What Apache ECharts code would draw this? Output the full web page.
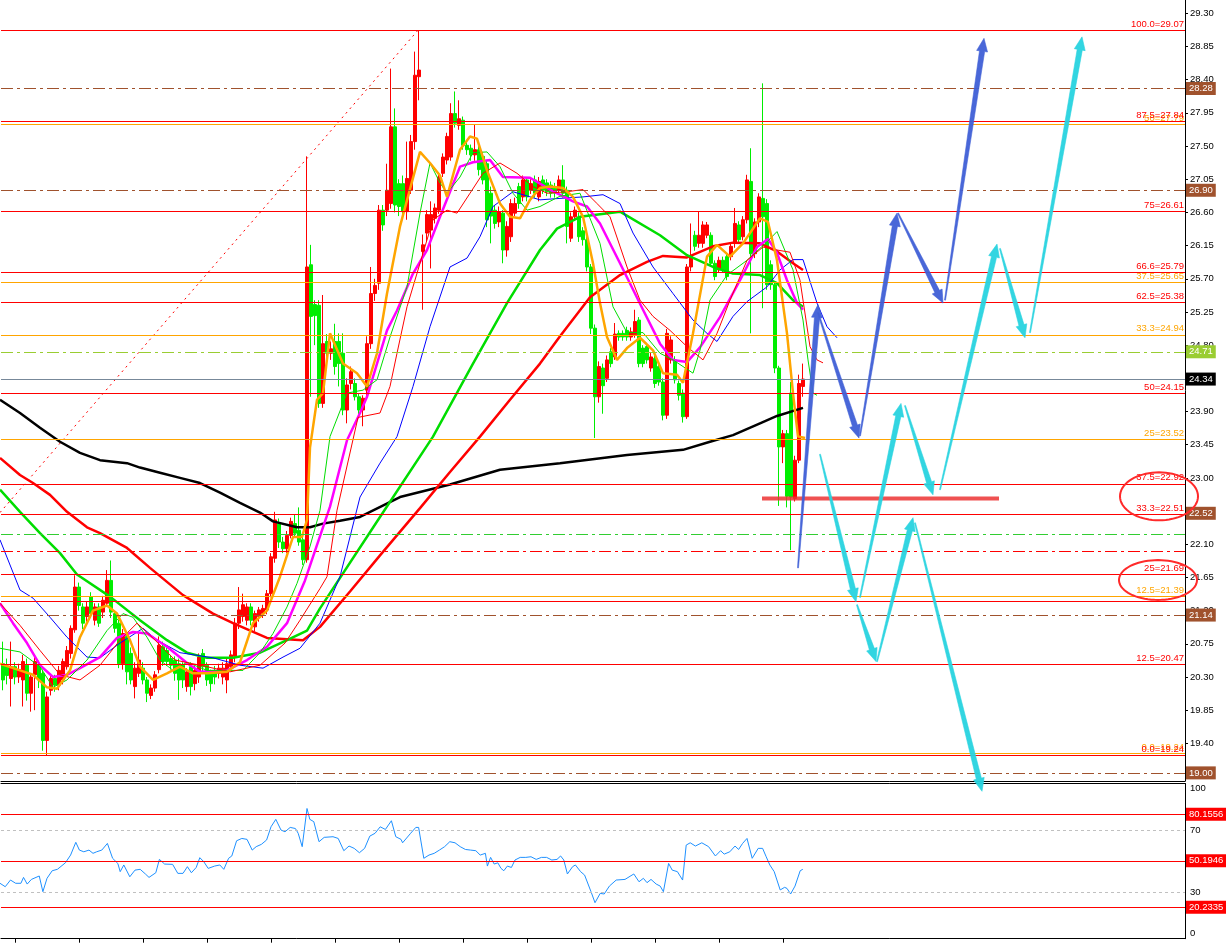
<!DOCTYPE html>
<html><head><meta charset="utf-8">
<script src="https://cdn.jsdelivr.net/npm/echarts@6/dist/echarts.min.js"></script>
<style>html,body{margin:0;padding:0;background:#fff}#c{width:1226px;height:943px}</style>
</head><body><div id="c"></div><script>
// ---------- DATA ----------
// candles: [open, close, low, high]
const ohlc = [
[20.48,20.26,20.12,20.78],[20.45,20.32,20.20,20.55],[20.28,20.44,19.90,20.78],[20.44,20.30,20.20,20.50],[20.30,20.40,20.22,20.48],
[20.26,20.51,19.90,20.60],[20.46,20.08,19.98,20.55],[20.08,20.30,19.83,20.35],[20.33,20.51,19.85,20.58],[20.46,20.26,20.15,20.52],
[20.35,19.44,19.30,20.40],[19.44,20.03,19.24,20.10],[20.12,20.28,20.05,20.32],[20.28,20.19,20.10,20.33],[20.19,20.39,20.12,20.45],
[20.26,20.51,20.20,20.55],[20.44,20.66,20.40,20.72],[20.62,20.96,20.55,21.00],[20.94,21.52,20.90,21.68],[21.52,21.27,21.20,21.58],
[21.25,21.03,20.95,21.30],[21.12,21.25,21.05,21.32],[21.39,21.16,21.10,21.45],[21.07,21.25,21.00,21.30],[21.25,21.03,20.98,21.30],
[21.18,21.34,21.10,21.40],[21.30,21.61,21.25,21.75],[21.61,21.18,21.10,21.88],[21.16,20.96,20.90,21.20],[21.03,20.48,20.42,21.08],
[20.48,20.89,20.40,20.95],[20.85,20.37,20.20,20.90],[20.62,20.26,20.20,20.70],[20.17,20.42,20.01,20.50],[20.35,20.53,20.30,20.89],
[20.42,20.26,20.20,20.50],[20.26,20.08,19.96,20.30],[20.05,20.15,20.00,20.20],[20.15,20.33,20.10,20.38],[20.40,20.73,20.35,20.85],
[20.71,20.51,20.45,20.78],[20.66,20.51,20.45,20.70],[20.55,20.46,20.40,20.60],[20.53,20.35,20.25,20.58],[20.48,20.26,19.99,20.55],
[20.46,20.26,20.15,20.50],[20.17,20.37,20.10,20.42],[20.44,20.17,20.05,20.50],[20.21,20.39,20.12,20.45],[20.30,20.57,20.22,20.62],
[20.62,20.44,20.35,20.68],[20.46,20.26,20.18,20.50],[20.35,20.21,20.10,20.40],[20.39,20.30,20.20,20.45],[20.35,20.42,20.28,20.48],
[20.30,20.42,20.20,20.50],[20.26,20.48,20.08,20.55],[20.44,20.60,20.40,20.66],[20.58,21.03,20.50,21.10],[21.03,21.21,20.95,21.52],
[21.12,21.28,21.05,21.43],[21.07,21.25,21.00,21.30],[21.25,21.07,21.00,21.30],[20.98,21.16,20.92,21.20],[21.12,21.21,21.05,21.25],
[21.16,21.23,21.10,21.28],[21.21,21.43,21.15,21.48],[21.43,21.93,21.38,21.98],[21.91,22.43,21.85,22.54],[22.38,22.13,22.05,22.45],
[22.13,22.04,21.98,22.20],[22.04,22.22,21.98,22.28],[22.22,22.41,22.18,22.46],[22.38,22.25,22.20,22.50],[22.29,22.13,22.08,22.60],
[22.16,21.89,21.82,22.20],[21.89,25.86,21.85,27.36],[25.89,25.19,24.10,26.16],[25.35,25.20,24.80,25.41],[25.34,24.01,23.95,25.41],
[24.01,24.82,23.95,25.48],[24.85,24.69,24.55,24.95],[24.69,24.75,24.60,24.85],[24.85,24.51,24.40,25.09],[24.85,24.55,24.24,24.96],
[24.69,23.92,23.85,24.96],[23.92,24.26,23.74,24.35],[24.28,24.44,24.20,24.51],[24.28,24.10,24.05,24.35],[24.10,23.92,23.85,24.15],
[23.92,24.08,23.70,24.12],[24.19,24.82,24.10,24.92],[24.82,25.50,24.75,25.86],[25.50,25.61,25.40,25.70],[25.64,26.63,25.55,26.70],
[26.63,26.43,26.35,26.70],[26.63,26.90,26.55,27.26],[26.72,27.76,26.65,28.55],[27.76,26.70,26.60,28.01],[26.99,26.68,26.55,27.05],
[26.99,26.61,26.50,27.10],[26.61,27.06,26.50,27.56],[26.90,27.56,26.85,27.65],[27.56,28.46,27.45,28.78],[28.44,28.53,28.12,29.07],
[26.07,26.16,25.28,26.30],[26.32,26.57,26.20,26.63],[26.36,26.57,25.84,26.75],[26.52,26.66,26.45,26.72],[26.63,27.08,26.58,27.12],
[27.13,27.35,27.08,27.40],[27.31,27.63,27.25,27.68],[27.35,27.94,27.30,28.08],[27.94,27.81,27.75,28.24],[27.78,27.87,27.72,28.12],
[27.85,27.51,27.45,27.90],[27.51,27.45,27.38,27.58],[27.47,27.38,27.30,27.52],[27.38,27.45,27.30,27.79],[27.45,27.18,27.10,27.50],
[27.36,27.04,26.98,27.42],[27.26,26.50,26.40,27.30],[26.86,26.55,26.18,26.95],[26.63,26.45,26.38,26.70],[26.47,26.61,26.40,26.68],
[26.59,26.09,25.91,26.63],[26.09,26.41,26.00,26.48],[26.27,26.72,26.20,26.78],[26.59,26.72,26.55,26.80],[26.95,26.72,26.65,27.00],
[26.81,27.04,26.75,27.10],[27.04,26.81,26.75,27.08],[26.90,26.99,26.85,27.05],[27.04,26.86,26.80,27.10],[26.81,27.02,26.75,27.08],
[27.04,26.90,26.85,27.10],[27.00,26.88,26.82,27.05],[26.97,26.86,26.80,27.02],[26.95,26.86,26.80,27.00],[26.90,27.04,26.85,27.10],
[27.04,26.86,26.80,27.24],[26.90,26.41,26.18,26.95],[26.25,26.54,26.20,26.60],[26.54,26.63,26.50,26.68],[26.54,26.27,26.20,26.60],
[26.35,26.23,26.15,26.40],[26.23,25.86,25.80,26.28],[25.86,25.03,24.95,25.90],[25.03,24.10,23.54,25.08],[24.10,24.51,24.02,24.58],
[24.49,24.25,23.87,24.55],[24.35,24.60,24.30,24.66],[24.71,24.55,24.50,24.76],[24.64,24.95,24.60,25.10],[24.96,24.91,24.86,25.00],
[24.96,24.91,24.86,25.00],[25.00,24.91,24.86,25.05],[24.91,24.98,24.86,25.04],[24.94,25.12,24.90,25.28],[25.14,24.55,24.50,25.18],
[24.76,24.55,24.50,24.80],[24.78,24.60,24.55,24.83],[24.49,24.64,24.44,24.70],[24.62,24.28,24.22,24.66],[24.51,24.30,24.25,24.55],
[24.30,23.85,23.78,24.35],[23.85,24.96,23.80,25.02],[24.60,24.87,24.55,24.92],[24.60,24.33,24.28,24.65],[24.28,24.12,24.05,24.32],
[24.15,23.83,23.75,24.20],[23.83,25.86,23.80,25.90],[25.86,26.00,25.80,26.45],[26.29,26.14,26.08,26.35],[26.18,26.29,26.12,26.61],
[26.18,26.43,26.12,26.48],[26.29,26.43,26.25,26.47],[26.29,25.91,25.86,26.33],[25.91,25.73,25.68,25.95],[25.82,25.95,25.78,26.00],
[25.95,25.82,25.78,26.00],[26.00,25.73,25.68,26.05],[26.00,26.14,25.95,26.18],[26.18,26.45,26.12,26.66],[26.43,26.23,26.18,26.48],
[26.27,26.50,26.22,26.55],[26.50,27.04,26.45,27.11],[27.02,26.04,24.96,27.47],[26.04,26.47,25.98,26.52],[26.47,26.81,26.40,26.86],
[26.79,26.54,25.30,28.35],[26.72,25.62,25.55,26.78],[25.89,25.62,25.55,25.95],[25.62,24.49,24.42,25.66],[24.49,23.42,22.62,24.52],
[23.42,23.60,23.20,23.65],[23.60,22.75,22.60,23.65],[24.15,22.74,22.02,24.30],[22.72,23.24,22.68,23.30],[23.24,24.28,23.20,24.40],
[24.24,24.34,24.10,24.55]
];
// moving averages: [bar index, price]
const maBlack = [[-0.75,24.06],[4.25,23.88],[9.25,23.68],[14.25,23.49],[19.25,23.34],[24.25,23.24],[31,23.2],[34.25,23.14],[39.25,23.07],[44.25,23.0],[49.25,22.93],[54.25,22.8],[59.25,22.66],[64.25,22.53],[67.5,22.41],[73.5,22.33],[76.75,22.33],[80,22.38],[84.25,22.42],[89.25,22.47],[99.25,22.74],[111.75,22.91],[124.25,23.11],[139.25,23.2],[156,23.31],[170,23.38],[176.75,23.49],[182.5,23.58],[189.25,23.74],[193.5,23.84],[200,23.95]];
const maRed = [[-0.75,23.27],[4.25,23.04],[7.5,22.93],[11.75,22.77],[16,22.54],[21,22.33],[24.25,22.25],[31,22.05],[36.75,21.78],[45,21.41],[52.5,21.16],[57.5,21.03],[66,20.83],[75,20.8],[79.25,20.98],[86.75,21.46],[94.25,21.95],[104.25,22.59],[111.75,23.08],[119.25,23.56],[126.75,24.06],[134.25,24.55],[139.25,24.92],[146.75,25.45],[154.25,25.75],[161,25.93],[165,26.01],[171,25.99],[177.5,26.14],[182.5,26.19],[189.25,26.18],[193.5,26.07],[197.5,25.91],[200,25.82]];
const maGreen = [[-0.75,22.84],[4.25,22.54],[9.25,22.25],[14.25,21.98],[18.5,21.69],[26.75,21.39],[34.25,21.07],[41,20.8],[46,20.63],[51,20.56],[57.5,20.56],[64.25,20.63],[71,20.8],[76,20.93],[79.25,21.23],[94.25,22.47],[107.5,23.56],[117.5,24.55],[126,25.37],[134.25,26.09],[138.5,26.38],[144.25,26.54],[154.25,26.61],[164.25,26.29],[171,26.02],[177.5,25.86],[182.5,25.77],[189.25,25.75],[193.5,25.64],[197.5,25.41],[200,25.32]];
const maBlue = [[-0.75,22.16],[4.25,21.48],[7.5,21.37],[11.75,21.11],[16,20.84],[21,20.57],[24.25,20.56],[29.25,20.76],[35,20.96],[38.5,20.8],[44.25,20.63],[52.5,20.56],[59.25,20.46],[65,20.42],[70,20.57],[74.25,20.69],[79.25,21.03],[84.25,21.66],[89.25,22.74],[94.25,23.2],[98.5,23.56],[102.5,24.24],[106.75,25.05],[111.75,25.86],[116,25.98],[119.25,26.27],[122.5,26.68],[127.5,26.88],[134.25,26.77],[139.25,26.79],[145,26.81],[150,26.84],[154.25,26.72],[157.5,26.32],[162.5,25.86],[167.5,25.5],[172.5,25.14],[176,24.96],[178.5,24.85],[182.5,25.19],[186,25.39],[191,25.59],[194.25,25.82],[197.5,25.96],[200,25.96],[203.5,25.37],[206,25.05],[208.5,24.9]];
const maMagenta = [[-0.75,21.3],[2.5,21.03],[6,20.76],[9.25,20.46],[12.5,20.3],[16,20.33],[19.25,20.42],[24.25,20.57],[28.5,20.83],[32.5,20.91],[36,20.89],[41,20.71],[46,20.49],[49.25,20.37],[56,20.39],[61,20.53],[66,20.71],[71,21.03],[75.5,21.61],[81.75,22.61],[86,23.51],[89.25,23.88],[91,24.1],[96,25.0],[98.5,25.27],[102.5,25.77],[106,26.09],[109.25,26.54],[114.25,27.22],[117.5,27.28],[121.75,27.31],[125,27.08],[131.75,27.07],[136.75,26.91],[142.5,26.75],[146,26.68],[149.25,26.45],[154.25,25.91],[160,25.28],[164.25,24.82],[167.5,24.6],[171,24.57],[174.25,24.77],[179.25,25.18],[184.25,25.68],[188.5,26.13],[191.25,26.24],[193.5,26.05],[196,25.68],[198.5,25.37],[200,25.28]];
const maOrange = [[-0.75,20.48],[4.25,20.39],[7.5,20.33],[11,20.16],[13.5,20.14],[16.75,20.39],[19.25,20.84],[22.5,21.2],[26,21.27],[28.5,21.16],[31.75,20.8],[34.25,20.44],[37.5,20.26],[41,20.35],[44.25,20.44],[47.5,20.35],[51,20.35],[56,20.37],[59.25,20.5],[62.5,21.03],[66,21.2],[69.25,21.66],[72.5,22.2],[74.75,22.2],[76,22.43],[76.75,23.41],[78.5,24.06],[80,24.15],[81.75,24.96],[85,24.55],[88.5,24.42],[91,24.24],[93.5,24.69],[96,25.5],[99.25,26.41],[104.25,27.42],[106.75,27.27],[109.25,27.1],[111,26.81],[114.25,27.45],[116.75,27.63],[118.5,27.6],[121,27.17],[124.25,26.72],[126.75,26.54],[129.25,26.52],[131.75,26.77],[134.25,26.93],[136.75,26.95],[140,26.93],[142.5,26.81],[145,26.54],[147.5,25.91],[149.25,25.37],[151,24.91],[153.5,24.6],[156,24.76],[159.25,24.9],[162.5,24.73],[165,24.42],[168.5,24.4],[170,24.29],[172.5,24.96],[176,26.0],[178.5,26.16],[181.75,26.0],[185,26.18],[189.25,26.52],[191.25,26.47],[193.5,25.95],[196,24.96],[197.5,24.15],[198.75,23.56],[200.5,23.54]];
const maThinGreen = [[-0.75,20.69],[4.25,20.64],[9.25,20.44],[12.5,20.16],[16,20.26],[21,20.53],[26,20.93],[30,21.16],[32.5,21.11],[36,20.84],[39.25,20.53],[42.5,20.39],[46,20.5],[51,20.39],[56,20.39],[60,20.39],[64.25,20.63],[67.5,20.89],[71,21.25],[73.5,21.57],[76.75,22.07],[79.25,22.56],[81.75,23.56],[86,24.15],[90,24.19],[93.5,24.33],[96.75,24.91],[101,25.59],[104.25,26.59],[106.75,27.27],[109.25,27.0],[111,26.86],[114.25,27.08],[117.5,27.41],[121,27.42],[124.25,27.22],[127.5,26.86],[131,26.63],[134.25,26.68],[139.25,26.82],[144.25,26.86],[149.25,26.18],[152.5,25.32],[156,24.97],[160,24.97],[164.25,24.69],[167.5,24.6],[172.5,24.42],[174.25,24.73],[176.75,25.41],[181,25.75],[186,25.95],[191,26.2],[193.5,26.34],[197.5,25.82],[200,25.14],[201.25,24.6],[202.5,24.15],[203.5,24.12]];
const maThinRed = [[-0.75,21.3],[4.25,21.0],[9.25,20.66],[14.25,20.33],[19.25,20.26],[24.25,20.46],[29.25,20.8],[33.5,21.03],[38,20.8],[43,20.53],[49.25,20.46],[56.75,20.37],[64.25,20.46],[70.5,20.76],[74.25,21.07],[79.25,21.5],[81,21.66],[83.5,22.56],[88.75,23.82],[94.25,23.88],[96.75,24.24],[98.5,24.69],[101,25.32],[104.25,25.91],[107.5,26.5],[111,26.63],[113.5,26.59],[116.75,26.86],[120,27.13],[124.25,27.27],[128.5,27.13],[132.5,26.95],[136,26.86],[141,26.88],[145,26.91],[148.5,26.72],[151.75,26.54],[156,25.86],[159.25,25.41],[162.5,25.19],[166.75,25.0],[171,24.78],[175,24.6],[178.5,24.96],[181.75,25.41],[186,25.95],[190,26.13],[193.5,26.09],[196.75,26.06],[199.25,25.68],[201.75,24.78],[203.5,24.6],[205,24.56]];
// RSI: [bar index, value]
const rsi = [[-0.75,35.7],[0.56,33.5],[1.87,37.8],[3.17,35.7],[4.48,35.7],[5.13,39.5],[6.05,35.2],[7.1,38.2],[9.06,40.4],[9.97,30.3],[11.0,38.9],[12.3,43.8],[13.6,44.7],[15.6,48.9],[16.9,53.9],[18.2,62.1],[19.1,57.1],[20.2,56.0],[21.5,57.1],[22.5,55.0],[23.4,56.0],[24.7,57.1],[26.1,61.4],[27.4,51.8],[28.7,48.5],[29.3,43.2],[30.2,47.5],[31.7,39.9],[33.0,44.2],[34.3,44.7],[35.6,41.7],[36.5,39.5],[38.2,42.5],[39.1,51.1],[40.4,48.1],[42.4,47.9],[43.7,42.1],[45.0,42.1],[46.1,46.4],[47.1,42.5],[48.3,45.9],[49.2,52.2],[50.2,49.6],[51.3,45.3],[52.9,46.8],[54.2,47.5],[55.2,44.7],[56.4,51.8],[57.2,53.3],[58.4,63.1],[59.7,64.6],[61.0,64.0],[62.3,57.1],[63.3,59.3],[64.6,60.8],[65.9,63.6],[67.0,72.1],[68.2,76.9],[69.5,70.0],[70.5,68.9],[71.8,71.7],[73.1,71.0],[73.8,67.9],[74.8,59.3],[76.0,83.9],[76.7,76.9],[77.7,75.4],[79.0,62.5],[80.3,65.3],[82.5,65.7],[83.8,64.6],[85.2,56.7],[86.5,59.7],[87.8,58.2],[89.1,55.4],[90.4,58.2],[91.7,66.1],[93.0,67.9],[94.3,72.1],[95.6,70.4],[97.1,76.0],[98.2,65.7],[99.5,64.0],[99.9,61.8],[101.9,67.9],[103.2,71.7],[103.9,71.7],[105.2,51.8],[106.5,53.9],[107.8,55.0],[109.1,57.1],[110.4,59.3],[111.7,62.5],[113.0,61.8],[114.3,59.3],[115.6,57.5],[116.9,57.1],[118.2,56.7],[119.3,53.9],[120.6,55.0],[121.1,46.8],[121.9,52.4],[122.8,48.1],[123.7,48.9],[124.5,45.3],[125.2,43.8],[126.1,46.8],[127.1,45.9],[128.0,50.7],[129.3,52.4],[130.7,52.4],[132.0,52.8],[133.3,51.1],[134.6,52.4],[135.9,52.4],[137.2,50.7],[138.5,51.1],[139.4,53.3],[140.2,50.7],[141.1,41.7],[142.4,46.4],[143.1,47.5],[144.4,43.2],[145.4,41.0],[147.0,30.3],[148.0,23.2],[149.3,29.2],[150.3,28.8],[151.6,33.9],[153.3,37.8],[155.5,38.2],[157.7,41.7],[159.0,36.7],[160.1,38.9],[161.0,36.1],[162.0,38.2],[163.3,35.2],[164.3,33.9],[165.1,30.3],[166.4,48.5],[167.3,44.2],[168.6,43.2],[169.9,37.8],[170.8,60.3],[171.8,61.8],[173.1,59.7],[174.7,61.8],[176.4,59.3],[178.1,53.3],[179.4,56.7],[180.3,54.5],[181.7,56.0],[183.0,59.7],[183.9,57.5],[184.9,61.4],[186.0,64.6],[187.3,51.8],[188.8,58.2],[189.9,58.2],[190.8,52.8],[191.7,47.5],[192.8,43.2],[194.3,31.4],[195.4,33.1],[196.0,32.4],[196.9,28.8],[198.0,33.9],[199.3,43.8],[199.95,44.7]];
// horizontal levels
const fibRed = [29.07, 27.84, 26.61, 25.79, 25.38, 24.15, 22.92, 22.51, 21.69, 20.47, 19.24];
const fibRedLabels = ['100.0=29.07','87.5=27.84','75=26.61','66.6=25.79','62.5=25.38','50=24.15','37.5=22.92','33.3=22.51','25=21.69','12.5=20.47','0.0=19.24'];
const fibOrange = [27.79, 25.65, 24.94, 23.52, 21.39, 19.27];
const fibOrangeLabels = ['50=27.79','37.5=25.65','33.3=24.94','25=23.52','12.5=21.39','0.0=19.24'];
const plainRed = [21.33];
const brownLevels = [28.28, 26.90, 21.14, 19.00];
const brownBadgeOnly = 22.52;
const yellowGreenLevel = 24.71;
const greenDashLevel = 22.23;
const redDashLevel = 22.01;
const lastPrice = 24.34;
const rsiLevels = [80.1556, 50.1946, 20.2335];
const rsiDashed = [70, 30];
// drawings: trend line and support segment [bar, price]
const trendLine = [[-0.75, 22.53], [103.75, 29.07]];
const supportSeg = [[189.75, 22.72], [249, 22.72]];
// arrows: [barFrom, priceFrom, barTo, priceTo]
const blueArrows = [[198.75,21.78,203.75,25.35],[203.75,25.24,214.0,23.54],[214.25,23.57,223.5,26.59],[223.75,26.59,235.0,25.37],[235.5,25.41,245.25,28.96]];
const cyanArrows = [[204.25,23.32,213.25,21.32],[214.25,21.38,224.5,24.01],[225.5,23.98,232.5,22.77],[234.25,22.84,248.5,26.17],[249.25,26.11,255.5,24.90],[256.75,24.97,269.75,28.98],[213.5,21.28,218.25,20.51],[218.5,20.51,227.5,22.46],[228.0,22.39,244.75,18.75]];
// ellipses: [centerBar, centerPrice, radiusBars, radiusPrice]
const ellipses = [[289, 22.75, 9.75, 0.325], [288.75, 21.615, 9.75, 0.27]];
// axis ticks
const priceTicks = [18.95,19.40,19.85,20.30,20.75,21.20,21.65,22.10,22.55,23.00,23.45,23.90,24.35,24.80,25.25,25.70,26.15,26.60,27.05,27.50,27.95,28.40,28.85,29.30];
const rsiTicks = [0, 30, 70, 100];
const timeTicks = [3,19,35,51,67,83,99,115,131,147,163,179,195];

// ---------- CHART ----------
const NB = 296;
const cats = Array.from({length: NB}, (_, i) => String(i));
const FONT = 'Liberation Sans';
const FS = 9.5;
const dashDot = [12, 4, 3, 4];

const levelLines = [];
function badge(v, bg, lineColor, type, txtColor) {
  return {yAxis: v, lineStyle: {color: lineColor, width: 1, type: type},
    label: {show: true, position: 'end', formatter: v.toFixed(2), backgroundColor: bg, color: txtColor || '#fff',
      padding: [2, 3, 1, 3], fontSize: FS, fontFamily: FONT, distance: 1}};
}
brownLevels.forEach(v => levelLines.push(badge(v, '#a0522d', '#a0522d', dashDot)));
levelLines.push(badge(brownBadgeOnly, '#a0522d', 'rgba(255,255,255,0)', 'solid'));
levelLines.push(badge(yellowGreenLevel, '#9acd32', '#9acd32', dashDot));
levelLines.push({yAxis: greenDashLevel, lineStyle: {color: '#32cd32', width: 1, type: dashDot}, label: {show: false}});
levelLines.push({yAxis: redDashLevel, lineStyle: {color: '#ff0000', width: 1, type: dashDot}, label: {show: false}});
fibOrange.forEach((v, i) => levelLines.push({yAxis: v, lineStyle: {color: '#ffa500', width: 1, type: 'solid'},
  label: {show: true, position: 'insideEndTop', formatter: fibOrangeLabels[i], color: '#ffa500', fontSize: FS, fontFamily: FONT, distance: 1}}));
plainRed.forEach(v => levelLines.push({yAxis: v, lineStyle: {color: '#ff0000', width: 1, type: 'solid'}, label: {show: false}}));
fibRed.forEach((v, i) => levelLines.push({yAxis: v, lineStyle: {color: '#ff0000', width: 1, type: 'solid'},
  label: {show: true, position: 'insideEndTop', formatter: fibRedLabels[i], color: '#ff0000', fontSize: FS, fontFamily: FONT, distance: 1}}));
levelLines.push(badge(lastPrice, '#000000', '#778899', 'solid'));

const rsiLines = [];
rsiDashed.forEach(v => rsiLines.push({yAxis: v, lineStyle: {color: '#c0c0c0', width: 1, type: [3, 3]}, label: {show: false}}));
rsiLevels.forEach(v => rsiLines.push({yAxis: v, lineStyle: {color: '#ff0000', width: 1, type: 'solid'},
  label: {show: true, position: 'end', formatter: v.toFixed(4), backgroundColor: '#ff0000', color: '#fff',
    padding: [2, 3, 1, 3], fontSize: FS, fontFamily: FONT, distance: 1}}));

function maSeries(name, data, color, width) {
  return {type: 'line', name, xAxisIndex: 1, yAxisIndex: 0, data, symbol: 'none', smooth: false, z: 4,
    lineStyle: {color, width}, silent: true, animation: false};
}

function arrowRender(color) {
  return function (params, api) {
    const p1 = api.coord([api.value(0), api.value(1)]);
    const p2 = api.coord([api.value(2), api.value(3)]);
    const dx = p2[0] - p1[0], dy = p2[1] - p1[1];
    const len = Math.sqrt(dx * dx + dy * dy) || 1;
    const ux = dx / len, uy = dy / len, nx = -uy, ny = ux;
    const hl = 13, hw = 5.5, w0 = 0.5, w1 = 2.6;
    const bx = p2[0] - ux * hl, by = p2[1] - uy * hl;
    const pts = [
      [p1[0] + nx * w0, p1[1] + ny * w0],
      [bx + nx * w1, by + ny * w1],
      [bx + nx * hw, by + ny * hw],
      [p2[0], p2[1]],
      [bx - nx * hw, by - ny * hw],
      [bx - nx * w1, by - ny * w1],
      [p1[0] - nx * w0, p1[1] - ny * w0]
    ];
    return {type: 'polygon', shape: {points: pts}, style: {fill: color, stroke: color, lineWidth: 0.6, opacity: 0.95}};
  };
}

function ellipseRender(params, api) {
  const c = api.coord([api.value(0), api.value(1)]);
  const rx = api.size([api.value(2), 0])[0];
  const ry = api.size([0, api.value(3)])[1];
  const pts = [];
  for (let k = 0; k < 72; k++) {
    const a = k / 72 * Math.PI * 2;
    pts.push([c[0] + rx * Math.cos(a), c[1] + ry * Math.sin(a)]);
  }
  return {type: 'polygon', shape: {points: pts}, style: {fill: 'none', stroke: '#ff2a2a', lineWidth: 2}};
}

const chart = echarts.init(document.getElementById('c'), null, {renderer: 'canvas'});
chart.setOption({
  animation: false,
  backgroundColor: '#ffffff',
  grid: [
    {left: 1, width: 1184, top: 0, height: 781},
    {left: 1, width: 1184, top: 783.5, height: 155.2}
  ],
  xAxis: [
    {type: 'category', gridIndex: 0, data: cats, show: false, boundaryGap: true},
    {type: 'value', gridIndex: 0, min: -0.5, max: NB - 0.5, position: 'bottom',
      axisLine: {show: true, onZero: false, lineStyle: {color: '#000', width: 1}}, axisTick: {show: false}, axisLabel: {show: false}, splitLine: {show: false}},
    {type: 'value', gridIndex: 1, min: -0.5, max: NB - 0.5, position: 'bottom',
      axisLine: {show: true, onZero: false, lineStyle: {color: '#000', width: 1}},
      axisTick: {show: true, length: 4, customValues: timeTicks, lineStyle: {color: '#000'}}, axisLabel: {show: false}, splitLine: {show: false}},
    {type: 'value', gridIndex: 1, min: -0.5, max: NB - 0.5, position: 'top',
      axisLine: {show: true, onZero: false, lineStyle: {color: '#000', width: 1}}, axisTick: {show: false}, axisLabel: {show: false}, splitLine: {show: false}}
  ],
  yAxis: [
    {type: 'value', gridIndex: 0, position: 'right', min: 18.89, max: 29.48,
      axisLine: {show: true, onZero: false, lineStyle: {color: '#000', width: 1}},
      axisTick: {show: true, length: 3, customValues: priceTicks, lineStyle: {color: '#000'}},
      axisLabel: {show: true, customValues: priceTicks, formatter: v => v.toFixed(2), color: '#000', fontSize: FS, fontFamily: FONT, margin: 5},
      splitLine: {show: false}},
    {type: 'value', gridIndex: 1, position: 'right', min: 0, max: 100,
      axisLine: {show: true, onZero: false, lineStyle: {color: '#000', width: 1}},
      axisTick: {show: false},
      axisLabel: {show: true, customValues: rsiTicks, formatter: v => String(v), color: '#000', fontSize: FS, fontFamily: FONT, margin: 5,
        verticalAlignMaxLabel: 'top', verticalAlignMinLabel: 'bottom'},
      splitLine: {show: false}}
  ],
  series: [
    {type: 'line', name: 'trend', xAxisIndex: 1, yAxisIndex: 0, data: trendLine, symbol: 'none', z: 1,
      lineStyle: {color: '#ff0000', width: 1, type: [2, 4]}, silent: true,
      markLine: {silent: true, symbol: ['none', 'none'], animation: false, data: levelLines}},
    {type: 'candlestick', name: 'price', xAxisIndex: 0, yAxisIndex: 0, data: ohlc, barWidth: 3, z: 3, silent: true,
      itemStyle: {color: '#ff0000', color0: '#00ee00', borderColor: '#ff0000', borderColor0: '#00ee00', borderWidth: 1}},
    maSeries('ma250', maBlack, '#000000', 2.5),
    maSeries('ma120', maRed, '#ff0000', 2.5),
    maSeries('ma60', maGreen, '#00dd00', 2.5),
    maSeries('ma30', maBlue, '#0000ff', 1),
    maSeries('ma20', maMagenta, '#ff00ff', 2.5),
    maSeries('ma10t', maThinGreen, '#00dd00', 1),
    maSeries('ma10r', maThinRed, '#ff0000', 1),
    maSeries('ma5', maOrange, '#ffa500', 2.5),
    {type: 'line', name: 'support', xAxisIndex: 1, yAxisIndex: 0, data: supportSeg, symbol: 'none', z: 5,
      lineStyle: {color: 'rgba(236,50,50,0.85)', width: 4}, silent: true},
    {type: 'custom', name: 'blueArrows', xAxisIndex: 1, yAxisIndex: 0, data: blueArrows, renderItem: arrowRender('#3f5fd6'),
      encode: {x: [0, 2], y: [1, 3]}, z: 6, clip: false, silent: true},
    {type: 'custom', name: 'cyanArrows', xAxisIndex: 1, yAxisIndex: 0, data: cyanArrows, renderItem: arrowRender('#27d3df'),
      encode: {x: [0, 2], y: [1, 3]}, z: 6, clip: false, silent: true},
    {type: 'custom', name: 'ellipses', xAxisIndex: 1, yAxisIndex: 0, data: ellipses, renderItem: ellipseRender,
      encode: {x: 0, y: 1}, z: 7, clip: false, silent: true},
    {type: 'line', name: 'RSI', xAxisIndex: 2, yAxisIndex: 1, data: rsi, symbol: 'none', z: 4,
      lineStyle: {color: '#1e90ff', width: 1}, silent: true,
      markLine: {silent: true, symbol: ['none', 'none'], animation: false, data: rsiLines}}
  ]
});
</script></body></html>
